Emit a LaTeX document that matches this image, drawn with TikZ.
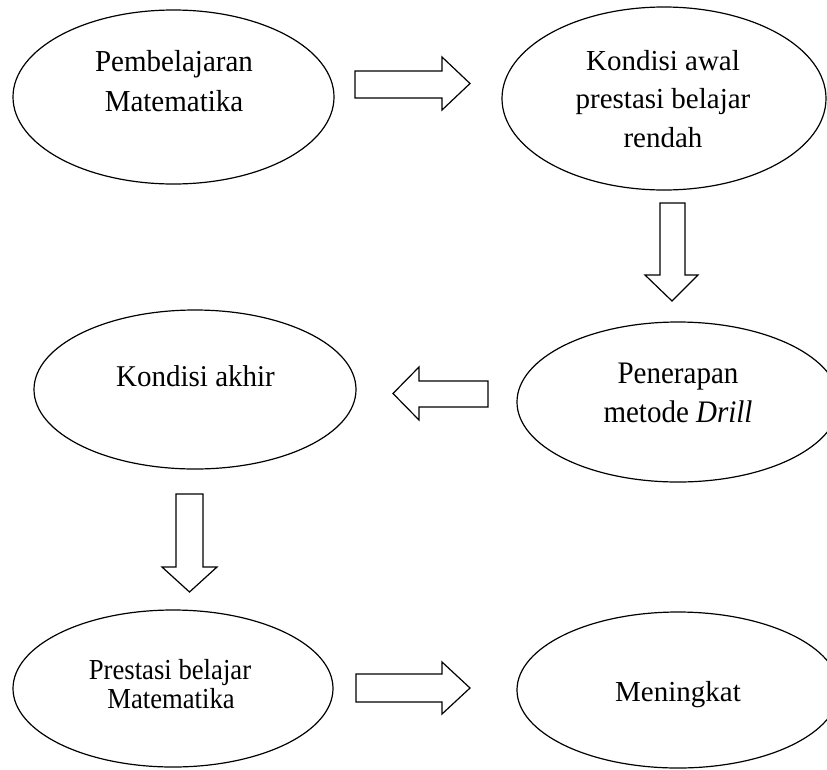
\documentclass[tikz,border=0pt]{standalone}
\usepackage{fontspec}
\setmainfont{Liberation Serif}
\usetikzlibrary{shapes.geometric}
\begin{document}
\begin{tikzpicture}[x=1pt,y=-1pt]
\tikzset{
  ell/.style={draw, ellipse, inner sep=0pt, line width=1.2pt},
  txt/.style={anchor=base, inner sep=0pt, font=\fontsize{29}{35}\selectfont},
  barrow/.style={draw, line width=1.2pt, line join=miter, fill=white},
}
\useasboundingbox (0,0) rectangle (827,769);
\clip (0,0) rectangle (827,769);
% ellipses
\node[ell, minimum width=321pt, minimum height=174pt] (e1) at (173.5,97) {};
\node[ell, minimum width=324pt, minimum height=183pt] (e2) at (664,98.5) {};
\node[ell, minimum width=322pt, minimum height=159pt] (e3) at (195,389.5) {};
\node[ell, minimum width=322pt, minimum height=160pt] (e4) at (678,402) {};
\node[ell, minimum width=320pt, minimum height=157pt] (e5) at (173,688.5) {};
\node[ell, minimum width=322pt, minimum height=156pt] (e6) at (678,690) {};
% texts
\node[txt] (t1a) at (174,71) {\scalebox{1}[1.05]{Pembelajaran}};
\node[txt] (t1b) at (174,111) {\scalebox{1}[1.05]{Matematika}};
\node[txt] (t2a) at (663,70) {Kondisi awal};
\node[txt] (t2b) at (663,108.5) {prestasi belajar};
\node[txt] (t2c) at (663,147) {rendah};
\node[txt] (t3a) at (195.5,386) {\scalebox{1}[1.04]{Kondisi akhir}};
\node[txt] (t4a) at (678,383) {\scalebox{1}[1.08]{Penerapan}};
\node[txt] (t4b) at (678,422) {\scalebox{1}[1.08]{metode \textit{Drill}}};
\node[txt] (t5a) at (170,679) {\scalebox{0.92}[1]{Prestasi belajar}};
\node[txt] (t5b) at (171,708) {\scalebox{0.92}[1]{Matematika}};
\node[txt] (t6a) at (678,701) {Meningkat};
% block arrows
\draw[barrow] (355,71) -- (442,71) -- (442,57) -- (470,83.5) -- (442,110) -- (442,98) -- (355,98) -- cycle;
\draw[barrow] (660,203) -- (685,203) -- (685,275) -- (698,275) -- (672,301) -- (645,275) -- (660,275) -- cycle;
\draw[barrow] (488,381) -- (419,381) -- (419,367) -- (393,393.5) -- (419,420) -- (419,407) -- (488,407) -- cycle;
\draw[barrow] (176,494) -- (203,494) -- (203,567) -- (217,567) -- (189.5,592) -- (162,567) -- (176,567) -- cycle;
\draw[barrow] (356,674) -- (442,674) -- (442,662) -- (470,688) -- (442,714) -- (442,702) -- (356,702) -- cycle;
\end{tikzpicture}
\end{document}
